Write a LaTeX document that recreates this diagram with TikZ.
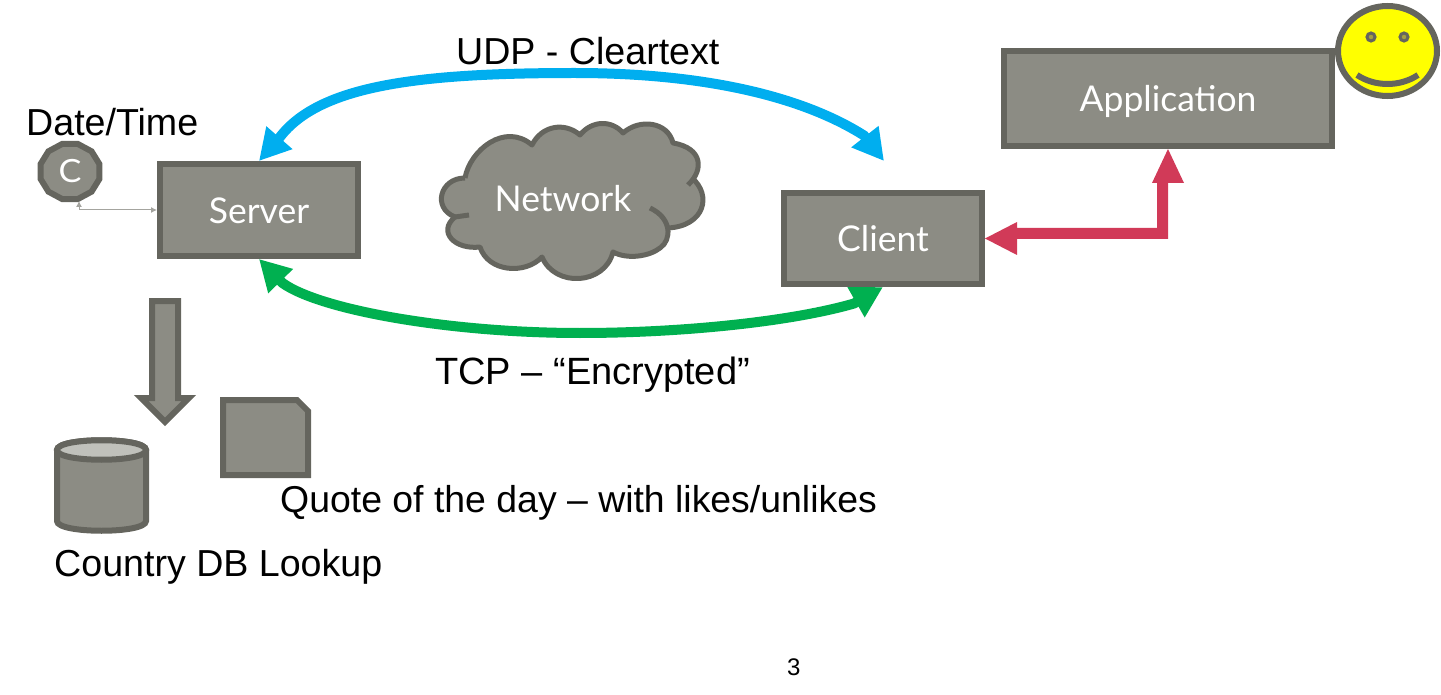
\documentclass[tikz,border=0pt]{standalone}
\usepackage{fontspec}
\usepackage{xcolor}
\usepackage{tikz}
\usetikzlibrary{shapes.geometric, arrows.meta, positioning}
\setmainfont{Liberation Sans}
\newfontfamily\boxfont{Lato}
\definecolor{boxfill}{HTML}{8c8c84}
\definecolor{boxline}{HTML}{65655e}
\definecolor{dbtop}{HTML}{c0c1bb}
\definecolor{udpblue}{HTML}{00aeef}
\definecolor{tcpgreen}{HTML}{00b050}
\definecolor{linkred}{HTML}{d13a58}
\definecolor{thinline}{HTML}{a4a49f}
\definecolor{facefill}{HTML}{ffff00}

\begin{document}
\begin{tikzpicture}[x=1pt, y=-1pt, >=Latex]
  \tikzstyle{blk}=[rectangle, draw=boxline, fill=boxfill, line width=6pt,
                   text=white, font=\fontsize{35.5}{40}\selectfont\boxfont, text centered,
                   text height=27pt, text depth=0pt]
  \tikzstyle{shp}=[draw=boxline, fill=boxfill, line width=6pt, miter limit=10]
  \tikzstyle{cld}=[boxline, line width=5pt, line join=round]
  \tikzstyle{lbl}=[inner sep=0pt, anchor=base west, text=black,
                   font=\fontsize{37.6}{44}\selectfont]
  \tikzstyle{arc}=[line width=10pt, {Triangle[length=31pt,width=32.5pt]}-{Triangle[length=31pt,width=32.5pt]}]

  \useasboundingbox (0,0) rectangle (1441,695);

  \node[blk, minimum width=198pt, minimum height=92pt](srv) at (259,210){Server};
  \node[blk, minimum width=198pt, minimum height=91pt, below right=-69pt and 420pt of srv](cli){Client};
  \node[blk, minimum width=328pt, minimum height=95pt, above right=41pt and 16pt of cli](app){Application};
  \node[regular polygon, regular polygon sides=12, draw=boxline, fill=boxfill, line width=6pt,
        minimum size=57pt, inner sep=0pt, xscale=1.07, text=white,
        font=\fontsize{32}{38}\selectfont\boxfont](clk) at (70,171.5){C};
  \node[ellipse, draw=boxline, fill=facefill, line width=6pt, minimum width=99pt, minimum height=90pt,
        inner sep=0pt, right=0pt of app, yshift=47.5pt](face){};

  \fill[boxfill] (465,178) .. controls (470,150) and (505,122) .. (532,145)
    .. controls (542,125) and (565,122) .. (580,135)
    .. controls (592,120) and (612,120) .. (623,133)
    .. controls (640,118) and (668,122) .. (673,143)
    .. controls (703,148) and (704,170) .. (692,178)
    .. controls (712,195) and (705,226) .. (668,228)
    .. controls (668,252) and (630,262) .. (613,252)
    .. controls (605,285) and (555,288) .. (542,257)
    .. controls (525,275) and (488,272) .. (480,247)
    .. controls (455,250) and (437,232) .. (455,217)
    .. controls (432,208) and (440,178) .. (465,178) -- cycle;
  \draw[cld] (465,178) .. controls (470,150) and (505,122) .. (532,145)
    .. controls (542,125) and (565,122) .. (580,135)
    .. controls (592,120) and (612,120) .. (623,133)
    .. controls (640,118) and (668,122) .. (673,143)
    .. controls (703,148) and (704,170) .. (688,185);
  \draw[cld] (692,178) .. controls (712,195) and (705,226) .. (668,228);
  \draw[cld] (650,208) .. controls (672,218) and (672,240) .. (660,248)
    .. controls (650,256) and (628,260) .. (613,252)
    .. controls (605,285) and (555,288) .. (542,257)
    .. controls (525,275) and (488,272) .. (480,247)
    .. controls (455,250) and (437,232) .. (455,217)
    -- (469,215);
  \draw[cld] (455,217) .. controls (432,208) and (440,178) .. (465,178);
  \node[inner sep=0pt, text=white, font=\fontsize{35.5}{40}\selectfont\boxfont](net) at (563,199){Network};

  \draw[shp] (152,301) -- (178,301) -- (178,398) -- (188.8,398) -- (165,421.8)
    -- (141.2,398) -- (152,398) -- cycle;
  \draw[shp] (223,400) -- (297,400) -- (308,411) -- (308,475) -- (223,475) -- cycle;
  \draw[shp] (57,450) -- (57,521) .. controls (57,534) and (146,534) .. (146,521) -- (146,450)
    .. controls (146,437) and (57,437) .. (57,450) -- cycle;
  \draw[shp, fill=dbtop] (57,450) .. controls (57,437) and (146,437) .. (146,450)
    .. controls (146,463) and (57,463) .. (57,450) -- cycle;

  \draw[boxline, line width=3pt, fill=yellow!60!black] (1371,37) circle (4);
  \draw[boxline, line width=3pt, fill=yellow!60!black] (1404,37) circle (4);
  \draw[boxline, line width=6pt] (1357,75) .. controls (1375,87) and (1400,87) .. (1418,75);

  \coordinate(udpl) at (280,137);
  \coordinate(udptop) at (575,73);
  \coordinate(udpr) at (864,135.5);
  \coordinate(udptip) at (884,161);
  \coordinate(tcpl) at (282.5,283);
  \coordinate(tcpbot) at (580,333);
  \coordinate(tcpr) at (854,303.5);
  \coordinate(clkport) at (79,201);

  \draw[arc, udpblue](srv.north) -- (udpl) .. controls (320,85) and (420,73) .. (udptop)
    .. controls (700,73) and (800,95) .. (udpr) -- (udptip);
  \draw[arc, tcpgreen](srv.south) -- (tcpl) .. controls (320,310) and (450,333) .. (tcpbot)
    .. controls (680,333) and (790,322) .. (tcpr) -- (cli.south);
  \draw[thinline, line width=1pt, {Latex[length=6pt,width=6pt]}-{Latex[length=6pt,width=6pt]}](clkport) |- (srv.west);
  \fill[linkred](cli.east) -- ++(32,16.5) -- ++(0,-16) -- (1168,239) -- (1168,183) -- (1184,183)
    -- (app.south) -- (1152,183) -- (1157,183) -- (1157,228) -- (1017,228) -- (1017,222) -- cycle;

  \node[lbl](udp) at (456,65){UDP - Cleartext};
  \node[lbl, font=\fontsize{38}{44}\selectfont](tcp) at (435,384){TCP – “Encrypted”};
  \node[lbl](dt) at (26,136){Date/Time};
  \node[lbl, font=\fontsize{37.4}{44}\selectfont](quote) at (280,512){Quote of the day – with likes/unlikes};
  \node[lbl](lookup) at (54,576){Country DB Lookup};
  \node[lbl, font=\fontsize{24}{28}\selectfont](pg) at (787,675){3};
\end{tikzpicture}
\end{document}
